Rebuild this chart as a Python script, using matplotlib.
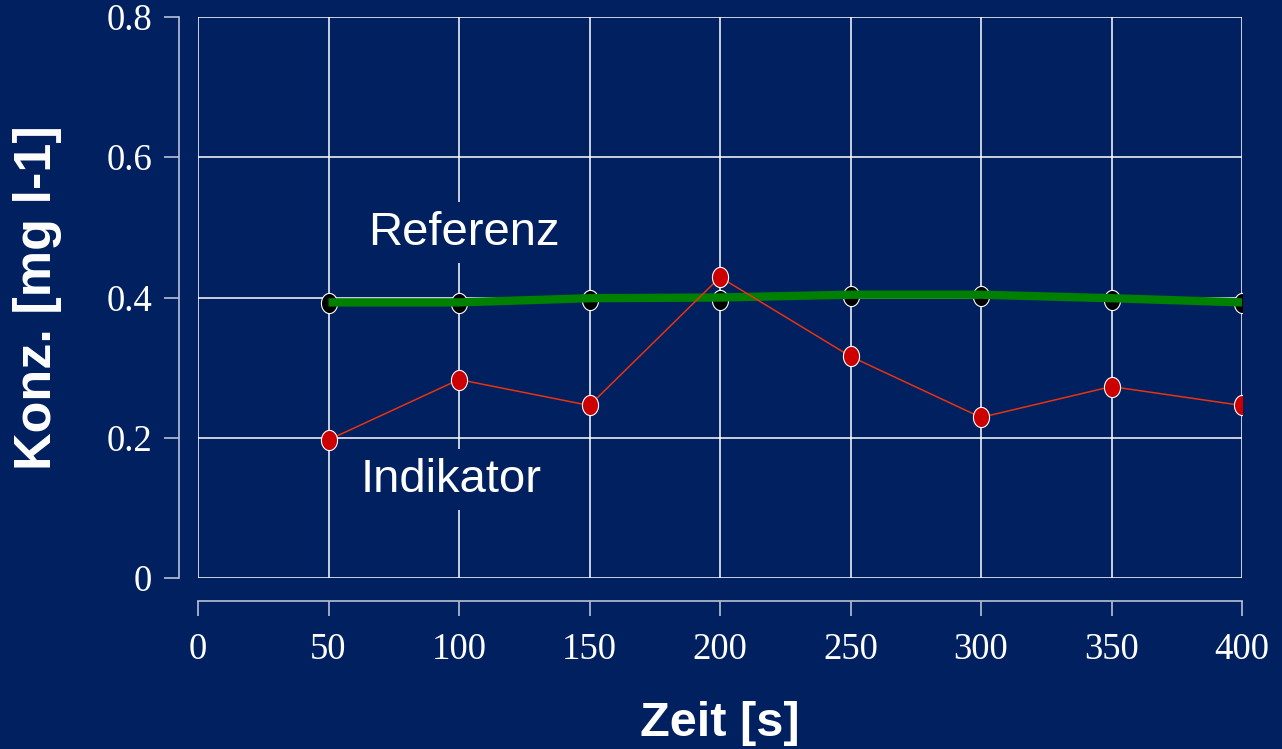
import numpy as np
import matplotlib.pyplot as plt

# Daten
zeit = [50, 100, 150, 200, 250, 300, 350, 400]
referenz = [0.392, 0.392, 0.397, 0.397, 0.402, 0.402, 0.397, 0.392]
referenz_fit = [0.393, 0.393, 0.399, 0.400, 0.404, 0.404, 0.399, 0.393]
indikator = [0.197, 0.283, 0.246, 0.429, 0.316, 0.229, 0.273, 0.246]
x_ticks = [0, 50, 100, 150, 200, 250, 300, 350, 400]
y_ticks = [0, 0.2, 0.4, 0.6, 0.8]
y_ticklabels = ['0', '0.2', '0.4', '0.6', '0.8']

bg = '#002060'
spine_col = '#b8c2d6'

# elliptischer Marker
t = np.linspace(0, 2 * np.pi, 60)
ellipse = np.column_stack([0.4 * np.cos(t), 0.5 * np.sin(t)])

fig = plt.figure(figsize=(12.82, 7.49), dpi=100, facecolor=bg)
ax = fig.add_axes([198 / 1282, 1 - 578 / 749, (1242 - 198) / 1282, (578 - 17) / 749])
ax.set_facecolor(bg)

ax.plot(zeit, referenz, linestyle='none', marker=ellipse, markersize=14.5,
        markerfacecolor='black', markeredgecolor='white', markeredgewidth=0.8, zorder=3)
ax.plot(zeit, referenz_fit, color='#008000', linewidth=6, solid_capstyle='butt', zorder=4)
ax.plot(zeit, indikator, color='#e8330f', linewidth=1.1, zorder=5)
ax.plot(zeit, indikator, linestyle='none', marker=ellipse, markersize=14.5,
        markerfacecolor='#cc0000', markeredgecolor='white', markeredgewidth=0.8, zorder=6)

ax.set_xlim(0, 400)
ax.set_ylim(0, 0.8)
ax.set_xticks(x_ticks)
ax.set_yticks(y_ticks)
ax.set_yticklabels(y_ticklabels)
ax.grid(True, color='white', linewidth=1.1, zorder=1)
ax.set_axisbelow(True)

for s in ['top', 'right']:
    ax.spines[s].set_visible(False)
ax.spines['left'].set_position(('outward', 14))
ax.spines['bottom'].set_position(('outward', 16.5))
for s in ['left', 'bottom']:
    ax.spines[s].set_color(spine_col)
    ax.spines[s].set_linewidth(1.2)

ax.tick_params(axis='both', colors=spine_col, width=1.2, length=11, direction='out',
               labelcolor='white', labelsize=26.5)
ax.tick_params(axis='x', pad=12)
ax.tick_params(axis='y', pad=8)
for lab in ax.get_xticklabels() + ax.get_yticklabels():
    lab.set_family('Liberation Serif')

ax.set_xlabel('Zeit [s]', family='Liberation Sans', fontweight='bold', fontsize=35,
              color='white', labelpad=24)
ax.set_ylabel('Konz. [mg l-1]', family='Liberation Sans', fontweight='bold', fontsize=37.5,
              color='white', labelpad=32)

box = dict(facecolor=bg, edgecolor='none', pad=6)
ax.text(102, 0.492, 'Referenz', family='Liberation Sans', fontsize=34, color='white',
        ha='center', va='center', bbox=box, zorder=2)
ax.text(97, 0.14, 'Indikator', family='Liberation Sans', fontsize=34, color='white',
        ha='center', va='center', bbox=box, zorder=2)

fig.savefig('out.png', dpi=100, facecolor=bg)
